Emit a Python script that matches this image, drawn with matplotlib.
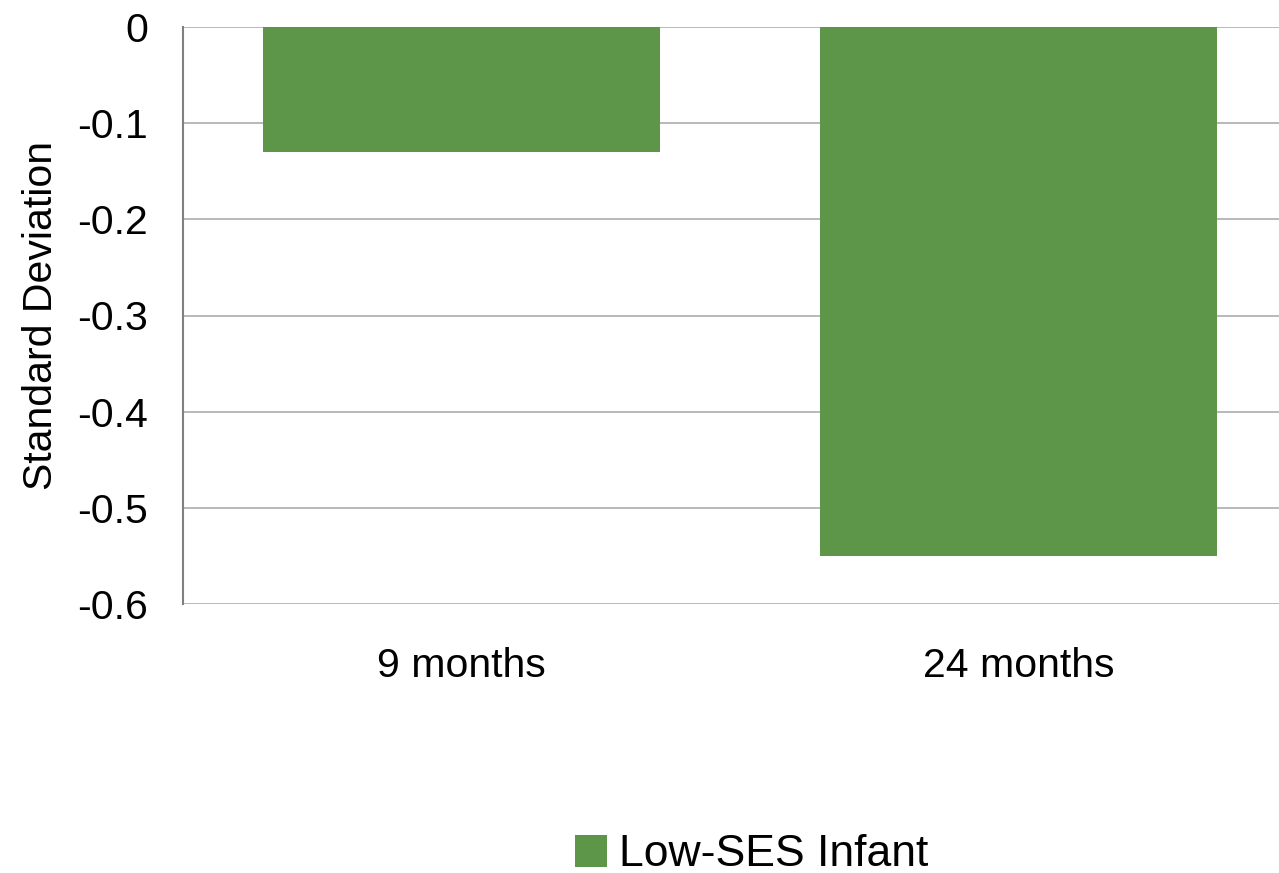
import matplotlib.pyplot as plt
from matplotlib.patches import Patch

plt.rcParams['font.family'] = ['Liberation Sans', 'DejaVu Sans']

# chart data
categories = ['9 months', '24 months']
low_ses = [-0.13, -0.55]
series_name = 'Low-SES Infant'
yticks = [0, -0.1, -0.2, -0.3, -0.4, -0.5, -0.6]

bar_color = '#5D9649'

fig = plt.figure(figsize=(12.79, 8.73), dpi=100)
ax = fig.add_axes([183 / 1279, 1 - 604 / 873, (1297 - 183) / 1279, (604 - 27) / 873])

x = list(range(len(categories)))
ax.bar(x, low_ses, width=0.714, color=bar_color, zorder=3)

ax.set_xlim(-0.5, len(categories) - 0.5)
ax.set_ylim(-0.6, 0)
ax.set_yticks(yticks)
ax.set_yticklabels([f'{v:g}' for v in yticks])
ax.set_xticks(x)
ax.set_xticklabels(categories)

ax.yaxis.grid(True, color='#b3b3b3', linewidth=1.3, zorder=0)
ax.set_axisbelow(True)
for s in ['top', 'right', 'bottom']:
    ax.spines[s].set_visible(False)
ax.spines['left'].set_color('#7f7f7f')
ax.spines['left'].set_linewidth(1.5)
ax.tick_params(axis='both', length=0, labelsize=29.5)
ax.tick_params(axis='y', pad=25)
ax.tick_params(axis='x', pad=31)

ax.set_ylabel('Standard Deviation', fontsize=29.5)
ax.yaxis.set_label_coords(-123 / 1114, 0.5)

handle = Patch(facecolor=bar_color, label=series_name)
fig.legend(handles=[handle], loc='center', bbox_to_anchor=(752 / 1279, 1 - 855 / 873),
           frameon=False, fontsize=32, handlelength=0.72, handleheight=0.72,
           handletextpad=0.27)

fig.savefig('out.png', dpi=100)
